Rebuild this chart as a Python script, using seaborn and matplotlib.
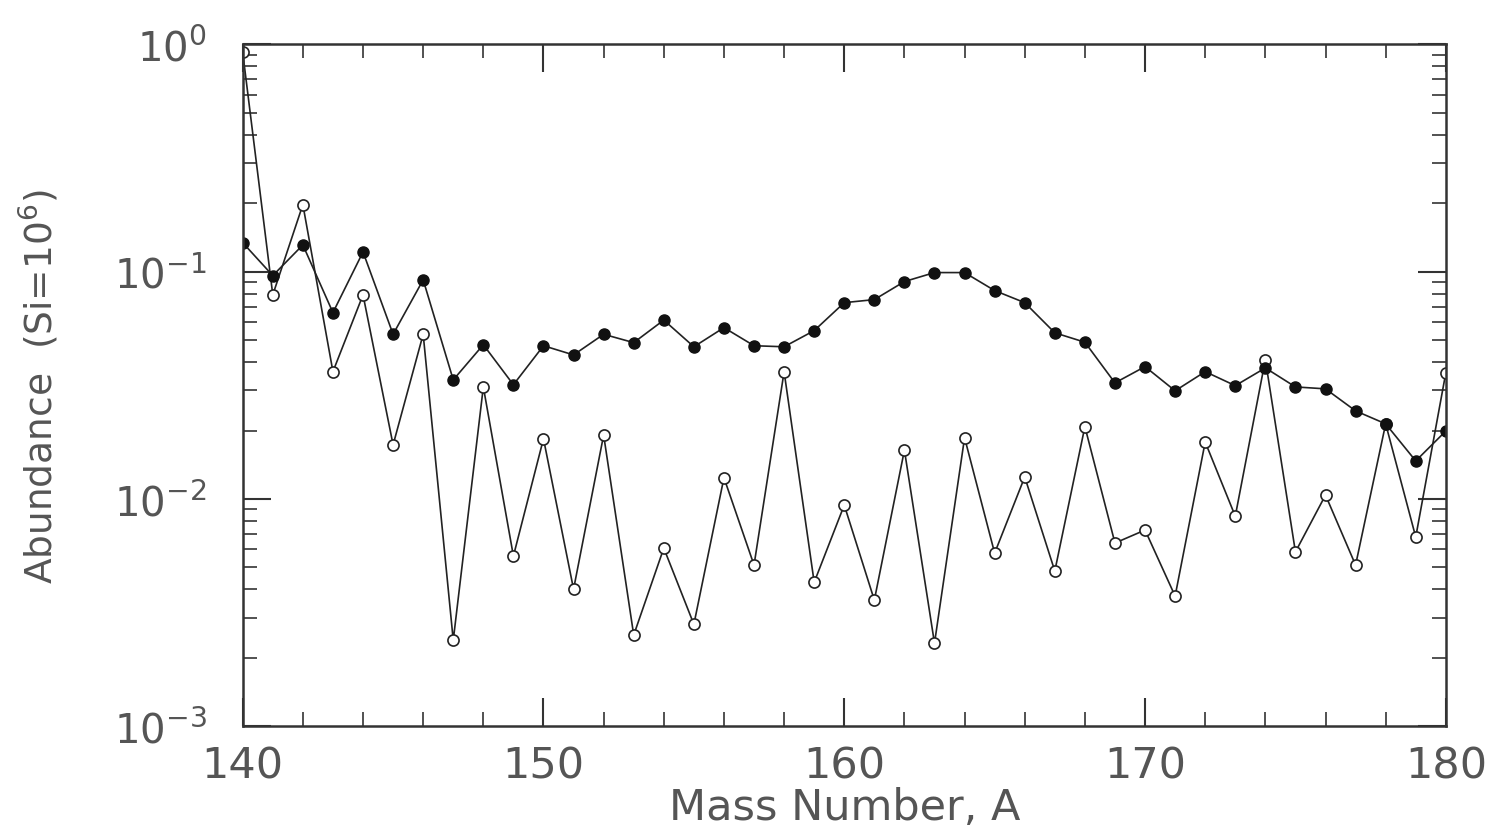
import numpy as np
import pandas as pd
import matplotlib
matplotlib.use("Agg")
import matplotlib.pyplot as plt
import seaborn as sns
from matplotlib.ticker import LogLocator, MultipleLocator, LogFormatterMathtext, NullFormatter

mass = list(range(140, 181))

filled_vals = [0.134, 0.096, 0.131, 0.066, 0.122, 0.053, 0.092, 0.0334, 0.0477, 0.0318,
               0.0472, 0.043, 0.053, 0.0487, 0.0612, 0.0467, 0.0567, 0.0472, 0.0467, 0.055,
               0.073, 0.0753, 0.0904, 0.099, 0.099, 0.0825, 0.073, 0.0538, 0.0489, 0.0324,
               0.0382, 0.0299, 0.0363, 0.0315, 0.0377, 0.0311, 0.0305, 0.0244, 0.0214, 0.0147,
               0.0199]

open_vals = [0.92, 0.079, 0.197, 0.0363, 0.079, 0.0173, 0.053, 0.00239, 0.0311, 0.00561,
             0.0184, 0.00401, 0.0191, 0.00252, 0.00608, 0.00281, 0.0124, 0.00512, 0.0363, 0.0043,
             0.0094, 0.00359, 0.0164, 0.00232, 0.0186, 0.00578, 0.0125, 0.00482, 0.0208, 0.0064,
             0.0073, 0.00374, 0.0178, 0.0084, 0.041, 0.00585, 0.0104, 0.00512, 0.0214, 0.0068,
             0.0359]

x_ticks = [140, 150, 160, 170, 180]

sns.set_theme(style="ticks")
plt.rcParams['font.family'] = ['DejaVu Sans']

fig = plt.figure(figsize=(14.89, 8.37), dpi=100)
ax = fig.add_axes([0.163, 0.131, 0.808, 0.815])

df = pd.DataFrame({"A": mass, "filled": filled_vals, "open": open_vals})

sns.lineplot(data=df, x="A", y="open", ax=ax, color="#222222", linewidth=1.2,
             marker="o", markersize=8, markerfacecolor="white",
             markeredgecolor="#222222", markeredgewidth=1.2)
sns.lineplot(data=df, x="A", y="filled", ax=ax, color="#222222", linewidth=1.2,
             marker="o", markersize=8, markerfacecolor="#111111",
             markeredgecolor="#111111", markeredgewidth=1.0)

ax.set_yscale("log")
ax.set_xlim(140, 180)
ax.set_ylim(1e-3, 1.0)

ax.set_xticks(x_ticks)
ax.xaxis.set_minor_locator(MultipleLocator(2))
ax.yaxis.set_major_locator(LogLocator(base=10, numticks=10))
ax.yaxis.set_minor_locator(LogLocator(base=10, subs=np.arange(2, 10), numticks=10))
ax.yaxis.set_major_formatter(LogFormatterMathtext())
ax.yaxis.set_minor_formatter(NullFormatter())

ax.tick_params(axis="both", which="major", direction="in", length=20, width=1.5,
               top=True, right=True, labelcolor="#555555", color="#333333")
ax.tick_params(axis="x", which="major", labelsize=31, pad=13)
ax.tick_params(axis="y", which="major", labelsize=29, pad=26)
ax.tick_params(axis="both", which="minor", direction="in", length=10, width=1.2,
               top=True, right=True, color="#333333")

for s in ax.spines.values():
    s.set_linewidth(1.8)
    s.set_color("#333333")

ax.set_xlabel("Mass Number, A", fontsize=31, color="#555555", labelpad=0)
ax.set_ylabel("Abundance  (Si=10$^6$)", fontsize=27, color="#555555", labelpad=38)

fig.savefig("out.png", dpi=100)
